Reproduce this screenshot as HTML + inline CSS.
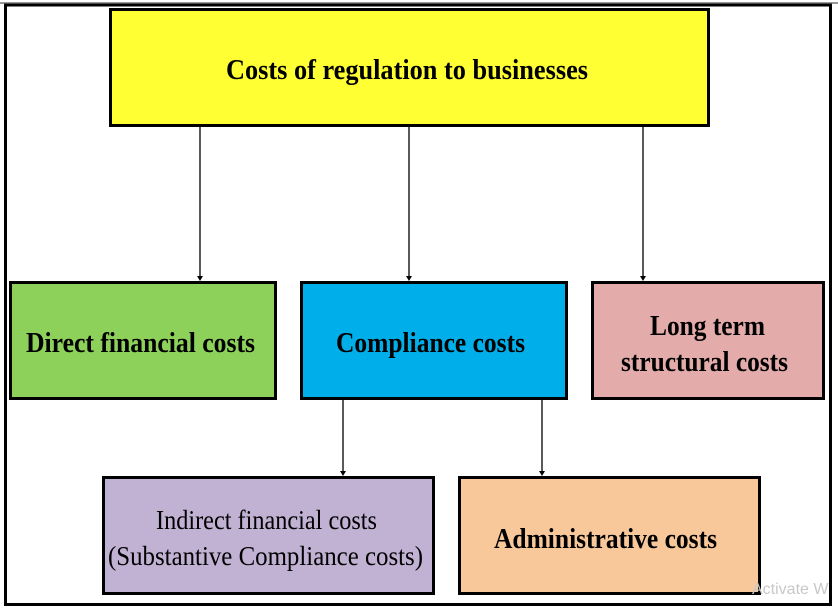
<!DOCTYPE html>
<html><head><meta charset="utf-8"><style>
html,body{margin:0;padding:0;background:#fff;width:838px;height:609px;overflow:hidden}
svg{display:block}
text{font-family:"Liberation Serif",serif;fill:#000}
</style></head><body>
<svg width="838" height="609" viewBox="0 0 838 609">
<rect width="838" height="609" fill="#fff"/>
<line x1="0" y1="3" x2="838" y2="3" stroke="#999" stroke-width="2"/>
<rect x="5.5" y="5" width="825" height="599.5" fill="none" stroke="#000" stroke-width="3"/>
<g stroke="#000" stroke-width="3">
<rect x="110.5" y="9.5" width="598" height="116" fill="#ffff33"/>
<rect x="10.5" y="282.5" width="265" height="116" fill="#8dd05a"/>
<rect x="301.5" y="282.5" width="265" height="116" fill="#00aeea"/>
<rect x="592.5" y="282.5" width="231" height="116" fill="#e3acab"/>
<rect x="103.5" y="477.5" width="330" height="116" fill="#c1b2d4"/>
<rect x="459.5" y="477.5" width="300" height="116" fill="#f9c89a"/>
</g>
<g stroke="#000" stroke-width="1.3">
<line x1="200" y1="127" x2="200" y2="277"/>
<line x1="409" y1="127" x2="409" y2="277"/>
<line x1="643" y1="127" x2="643" y2="277"/>
<line x1="343" y1="400" x2="343" y2="472"/>
<line x1="542" y1="400" x2="542" y2="472"/>
</g>
<g fill="#000">
<polygon points="197,276 203,276 200,281"/>
<polygon points="406,276 412,276 409,281"/>
<polygon points="640,276 646,276 643,281"/>
<polygon points="340,471 346,471 343,476"/>
<polygon points="539,471 545,471 542,476"/>
</g>
<g font-weight="bold" font-size="28">
<text x="226" y="79" textLength="362" lengthAdjust="spacingAndGlyphs">Costs of regulation to businesses</text>
<text x="26" y="352" textLength="229" lengthAdjust="spacingAndGlyphs">Direct financial costs</text>
<text x="336" y="352" textLength="189" lengthAdjust="spacingAndGlyphs">Compliance costs</text>
<text x="650" y="335" textLength="115" lengthAdjust="spacingAndGlyphs">Long term</text>
<text x="621" y="371" textLength="167" lengthAdjust="spacingAndGlyphs">structural costs</text>
<text x="494" y="548" textLength="223" lengthAdjust="spacingAndGlyphs">Administrative costs</text>
</g>
<g font-size="27">
<text x="156" y="529" textLength="221" lengthAdjust="spacingAndGlyphs">Indirect financial costs</text>
<text x="108" y="565" textLength="315" lengthAdjust="spacingAndGlyphs">(Substantive Compliance costs)</text>
</g>
<text x="752" y="594" font-size="16" style="fill:#c8c8c8;font-family:'Liberation Sans',sans-serif">Activate W</text>
</svg>
</body></html>
